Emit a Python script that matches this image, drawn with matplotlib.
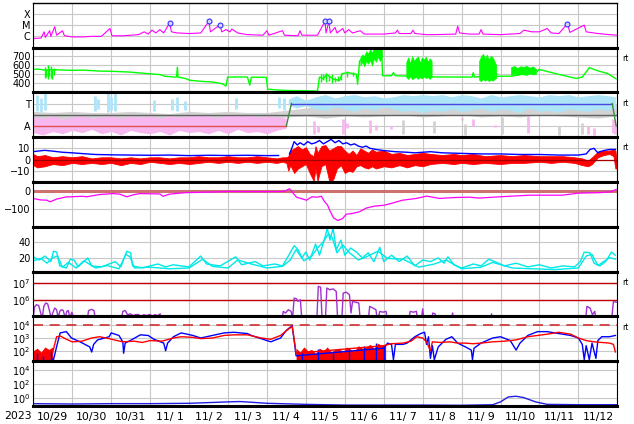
import numpy as np
import matplotlib.pyplot as plt

# time axis: days since 2023-10-29 00:00 UT
day_labels = ['10/29', '10/30', '10/31', '11/ 1', '11/ 2', '11/ 3', '11/ 4', '11/ 5',
              '11/ 6', '11/ 7', '11/ 8', '11/ 9', '11/10', '11/11', '11/12']

# --- panel 1: X-ray flux (log10 W/m2)
xray_t = [0.0, 0.2, 0.28, 0.31, 0.42, 0.45, 0.55, 0.6, 0.75, 0.8, 1.0, 1.3, 1.5, 1.75, 1.97, 2.02,
          2.3, 2.5, 2.7, 2.85, 2.95, 3.05, 3.15, 3.25, 3.35, 3.5, 3.55, 3.7, 4.0, 4.3, 4.51, 4.55,
          4.8, 4.84, 4.95, 5.05, 5.1, 5.25, 5.5, 5.9, 6.0, 6.05, 6.4, 6.45, 6.8, 6.85, 6.9, 7.3,
          7.49, 7.52, 7.59, 7.63, 7.75, 7.8, 7.95, 8.0, 8.1, 8.2, 8.4, 8.5, 9.0, 9.3, 9.35, 9.4,
          9.7, 9.75, 9.8, 10.1, 10.3, 10.85, 10.9, 10.95, 11.2, 11.45, 11.5, 11.55, 12.0, 12.5,
          12.6, 12.8, 13.0, 13.2, 13.3, 13.5, 13.72, 13.78, 14.15, 14.2, 14.5, 14.8, 15.0]
xray_log = [-6.2, -6.15, -5.6, -6.1, -5.5, -6.0, -5.15, -5.9, -5.5, -5.95, -6.05, -6.05, -6.0, -6.0,
            -5.3, -5.95, -5.95, -5.9, -5.85, -5.6, -5.8, -5.45, -5.7, -5.4, -5.7, -4.82, -5.6, -5.7,
            -5.75, -5.7, -4.66, -5.6, -4.96, -5.6, -5.4, -5.6, -5.35, -5.7, -5.85, -5.9, -5.5, -5.9,
            -5.5, -5.9, -5.95, -5.5, -5.9, -5.9, -4.66, -5.7, -4.66, -5.7, -5.2, -5.7, -5.3, -5.7,
            -5.4, -5.7, -5.5, -5.8, -5.8, -5.7, -5.45, -5.75, -5.75, -5.45, -5.75, -5.85, -5.85,
            -5.8, -5.1, -5.7, -5.8, -5.8, -5.4, -5.8, -5.85, -5.75, -5.45, -5.6, -5.6, -5.3, -5.7,
            -5.75, -4.87, -5.65, -5.0, -5.6, -5.75, -5.85, -5.9]
flare_t = [3.5, 4.51, 4.8, 7.49, 7.59, 13.72]
flare_log = [-4.82, -4.66, -4.96, -4.66, -4.66, -4.87]

# --- panel 2: solar wind speed (km/s)
speed_t = [0, 0.1, 0.3, 0.56, 0.8, 1.0, 1.3, 1.71, 2.0, 2.48, 2.99, 3.25, 3.38, 3.63, 3.68, 3.70,
           3.72, 3.9, 4.02, 4.27, 4.6, 4.86, 4.95, 4.99, 5.3, 5.5, 5.56, 5.6, 5.98, 6.02, 6.3, 6.6,
           7.0, 7.3, 7.35, 7.45, 7.53, 7.7, 7.86, 7.94, 8.1, 8.3, 8.33, 8.38, 8.5, 8.7, 8.89, 8.95,
           8.97, 9.2, 9.25, 9.3, 9.58, 10.25, 11.27, 11.3, 11.33, 11.45, 11.89, 12.27, 12.94,
           12.99, 13.5, 13.94, 14.1, 14.28, 14.5, 14.75, 14.97]
speed_v = [555, 560, 548, 552, 548, 545, 548, 537, 535, 526, 507, 498, 480, 470, 470, 580, 470,
           455, 435, 424, 415, 395, 370, 470, 472, 470, 380, 468, 468, 335, 325, 320, 318, 315,
           470, 450, 500, 450, 430, 510, 520, 500, 390, 650, 700, 740, 780, 760, 485, 485, 520,
           485, 482, 472, 470, 520, 470, 475, 480, 480, 530, 556, 500, 455, 470, 575, 540, 510, 450]
# short spiky stretches
speed_spk_t = [0.3, 0.33, 0.37, 0.41, 0.45, 0.49, 0.53, 7.38, 7.45, 7.52, 7.6, 7.67, 7.75, 7.82,
               7.9, 8.05, 8.2]
speed_spk_lo = [455, 470, 447, 480, 460, 450, 490, 420, 440, 410, 430, 400, 420, 430, 440, 470, 480]
speed_spk_hi = [580, 560, 605, 570, 590, 565, 575, 510, 500, 520, 490, 500, 470, 480, 520, 540, 530]
# dense noisy blocks (envelopes)
speed_blk_t = [[8.4, 8.45, 8.5, 8.55, 8.6, 8.65, 8.7, 8.75, 8.8, 8.85, 8.9, 8.95],
               [9.58, 9.63, 9.68, 9.73, 9.78, 9.83, 9.88, 9.93, 9.98, 10.03, 10.08, 10.13, 10.18,
                10.23],
               [11.45, 11.5, 11.55, 11.6, 11.65, 11.7, 11.75, 11.8, 11.85, 11.89],
               [12.27, 12.35, 12.43, 12.51, 12.59, 12.67, 12.75, 12.83, 12.91]]
speed_blk_lo = [[600, 640, 590, 650, 620, 660, 600, 680, 640, 700, 650, 690],
                [470, 450, 480, 447, 460, 475, 450, 470, 455, 480, 460, 470, 450, 475],
                [440, 424, 450, 430, 445, 425, 440, 430, 450, 460],
                [495, 510, 492, 505, 500, 495, 510, 500, 505]]
speed_blk_hi = [[690, 720, 700, 760, 730, 780, 740, 790, 760, 800, 770, 780],
                [640, 690, 620, 706, 650, 680, 700, 630, 690, 660, 700, 640, 680, 650],
                [650, 700, 730, 680, 720, 660, 710, 690, 640, 600],
                [580, 594, 570, 590, 585, 594, 575, 590, 560]]

# --- panel 3: IMF sector (A=1, T=3)
pink_t = [0, 0.25, 0.5, 0.75, 1.0, 1.25, 1.5, 1.75, 2.0, 2.25, 2.5, 2.75, 3.0, 3.25, 3.5, 3.75,
          4.0, 4.25, 4.5, 4.75, 5.0, 5.25, 5.5, 5.75, 6.0, 6.25, 6.5]
pink_lo = [0.4, 0.2, 0.5, 0.3, 0.6, 0.4, 0.7, 0.3, 0.5, 0.2, 0.6, 0.4, 0.3, 0.5, 0.2, 0.6, 0.4,
           0.5, 0.3, 0.6, 0.3, 0.7, 0.4, 0.5, 0.3, 0.6, 0.8]
pink_hi = [1.8, 1.7, 1.9, 1.6, 1.8, 1.9, 1.7, 1.8, 1.9, 1.7, 1.9, 1.8, 1.9, 1.7, 1.9, 1.8, 1.9,
           2.0, 1.9, 1.7, 2.1, 1.9, 2.0, 1.8, 1.9, 1.8, 1.7]
gray_t = [0, 0.5, 1, 1.5, 2, 2.5, 3, 3.5, 4, 4.5, 5, 5.5, 6, 6.5, 7, 7.5, 8, 8.5, 9, 9.5, 10,
          10.5, 11, 11.5, 12, 12.5, 13, 13.5, 14, 14.5, 15]
gray_lo = [1.6, 1.7, 1.5, 1.7, 1.6, 1.7, 1.6, 1.7, 1.6, 1.7, 1.5, 1.7, 1.6, 1.8, 1.9, 1.7, 1.9,
           1.8, 1.9, 2.0, 1.8, 1.9, 2.0, 1.8, 1.9, 1.8, 2.0, 1.9, 1.8, 1.7, 1.9]
gray_hi = [2.3, 2.2, 2.3, 2.2, 2.2, 2.3, 2.2, 2.1, 2.3, 2.2, 2.3, 2.2, 2.2, 2.4, 2.6, 2.9, 2.7,
           3.0, 2.8, 3.0, 3.1, 2.9, 3.0, 2.9, 2.8, 3.0, 2.9, 3.1, 2.9, 3.0, 2.9]
lb_t = [6.55, 6.75, 7.0, 7.25, 7.5, 7.75, 8.0, 8.25, 8.5, 8.75, 9.0, 9.25, 9.5, 9.75, 10.0, 10.25,
        10.5, 10.75, 11.0, 11.25, 11.5, 11.75, 12.0, 12.25, 12.5, 12.75, 13.0, 13.25, 13.5, 13.75,
        14.0, 14.25, 14.5, 14.75, 14.95]
lb_lo = [2.9, 2.6, 2.8, 2.5, 2.4, 2.7, 2.5, 2.3, 2.6, 2.4, 2.7, 2.5, 2.3, 2.4, 2.2, 2.4, 2.3, 2.5,
         2.3, 2.4, 2.6, 2.3, 2.5, 2.4, 2.2, 2.6, 2.3, 2.4, 2.2, 2.5, 2.4, 2.3, 2.5, 2.4, 2.6]
lb_hi = [3.4, 3.7, 3.3, 3.6, 3.8, 3.5, 3.7, 3.8, 3.6, 3.7, 3.5, 3.6, 3.8, 3.7, 3.8, 3.7, 3.8, 3.6,
         3.8, 3.7, 3.5, 3.8, 3.6, 3.7, 3.8, 3.7, 3.6, 3.8, 3.7, 3.8, 3.6, 3.7, 3.8, 3.7, 3.6]
lb_spk_t = [0.1, 0.2, 0.3, 1.58, 1.65, 1.92, 2.0, 2.1, 3.1, 3.55, 3.7, 3.9, 5.2, 6.3, 6.45]
lb_spk_lo = [2.3, 2.2, 2.4, 2.3, 2.5, 2.2, 2.4, 2.3, 2.3, 2.4, 2.3, 2.4, 2.5, 2.6, 2.4]
lb_spk_hi = [3.8, 3.5, 3.9, 3.7, 3.4, 3.9, 3.6, 3.9, 3.3, 3.4, 3.6, 3.2, 3.5, 3.6, 3.5]
pk_spk_t = [7.2, 7.3, 7.95, 8.05, 8.65, 8.8, 9.2, 11.0, 11.3, 11.85, 12.7, 14.25, 14.4, 14.88, 14.95]
pk_spk_lo = [0.3, 0.5, 0.3, 0.8, 0.4, 0.6, 0.7, 1.5, 1.0, 0.9, 0.4, 0.3, 0.2, 0.4, 0.3]
pk_spk_hi = [1.4, 1.0, 1.6, 1.3, 1.5, 1.1, 1.0, 1.7, 1.6, 1.1, 1.9, 1.0, 0.8, 1.6, 1.2]
gy_spk_t = [9.5, 10.3, 11.1, 12.05, 13.5, 14.1]
gy_spk_lo = [0.3, 0.4, 0.2, 0.3, 0.2, 0.3]
gy_spk_hi = [1.5, 1.4, 1.2, 1.8, 1.0, 1.3]
sector_t = [0, 6.5, 6.63, 14.87, 14.97]
sector_v = [1, 1, 3, 3, 1]

# --- panel 4: IMF Bt (blue) and Bz envelope (red), nT
bt_t = [0, 0.1, 0.3, 0.5, 0.75, 1.0, 1.3, 1.6, 2.0, 2.5, 3.0, 3.5, 4.0, 4.5, 5.0, 5.5, 6.0, 6.3,
        6.35, 6.55, 6.58, 6.65, 6.7, 6.78, 6.85, 6.95, 7.05, 7.15, 7.25, 7.35, 7.45, 7.55, 7.65,
        7.75, 7.85, 7.95, 8.05, 8.15, 8.25, 8.35, 8.45, 8.55, 8.65, 8.8, 9.0, 9.3, 9.6, 9.8, 10.0,
        10.2, 10.5, 11.0, 11.5, 12.0, 12.5, 13.0, 13.5, 14.0, 14.2, 14.3, 14.4, 14.5, 14.55, 14.65,
        14.8, 14.95]
bt_v = [7, 7.5, 8.2, 7.5, 6.5, 6, 5.2, 4.5, 4.2, 4.0, 3.8, 4.0, 3.5, 3.8, 3.6, 3.8, 3.5, 3.6,
        np.nan, np.nan, 5, 11, 16, 13, 15, 13, 16, 14, 15, 17, 14, 16, 18, 15, 17, 14, 15, 13, 14,
        12, 11, 12, 10, 9, 8, 7, 6.5, 6, 6.5, 7, 6, 5.5, 5, 5, 4.5, 4.5, 4, 4, 5, 9, 10, 6, 7, 8,
        9, 9]
bz_t = [0, 0.1, 0.3, 0.5, 0.75, 1.0, 1.25, 1.5, 1.75, 2.0, 2.25, 2.5, 2.75, 3.0, 3.25, 3.5, 3.75,
        4.0, 4.25, 4.5, 4.75, 5.0, 5.25, 5.5, 5.75, 6.0, 6.25, 6.4, 6.5, 6.55, 6.6, 6.7, 6.8, 6.9,
        7.0, 7.1, 7.2, 7.25, 7.3, 7.4, 7.5, 7.6, 7.7, 7.8, 7.9, 8.0, 8.1, 8.2, 8.3, 8.4, 8.5, 8.6,
        8.7, 8.8, 9.0, 9.2, 9.4, 9.6, 9.8, 10.0, 10.2, 10.5, 10.8, 11.0, 11.3, 11.6, 12.0, 12.3,
        12.6, 13.0, 13.3, 13.6, 13.9, 14.1, 14.25, 14.35, 14.5, 14.65, 14.8, 14.9, 14.95, 15.0]
bz_lo = [-5, -7, -6, -4, -5, -3, -4, -3, -4, -3, -5, -3, -4, -2, -3, -4, -3, -4, -3, -2, -3, -2,
         -3, -2, -3, -2, -3, -2, -3, -10, -5, -12, -8, -6, -4, -12, -19, -8, -19, -6, -4, -19, -18,
         -8, -5, -12, -10, -11, -6, -5, -7, -8, -6, -8, -6, -7, -5, -7, -5, -6, -4, -3, -4, -3, -4,
         -3, -4, -3, -3, -2, -3, -2, -3, -5, -6, -4, 2, 4, 5, 3, -8, -8]
bz_hi = [5, 3, 4, 2, 3, 2, 3, 1, 2, 2, 1, 2, 1, 2, 2, 1, 2, 2, 3, 2, 2, 3, 2, 2, 3, 2, 1, 2, 2,
         3, 8, 10, 12, 9, 11, 5, 3, 12, 6, 12, 13, 8, 10, 12, 12, 8, 5, 8, 4, 10, 8, 6, 9, 7, 8, 5,
         6, 4, 5, 6, 5, 4, 5, 4, 5, 3, 4, 3, 4, 3, 3, 3, 2, 1, -1, 2, 7, 8, 8, 9, 8, -5]

# --- panel 5: Dst (nT)
dst_t = [0, 0.17, 0.35, 0.43, 0.61, 0.86, 0.94, 1.27, 1.37, 1.71, 2.05, 2.22, 2.4, 2.56, 2.74,
         3.25, 3.33, 3.5, 3.89, 4.27, 5.04, 5.81, 6.45, 6.58, 6.76, 7.02, 7.15, 7.3, 7.4, 7.48,
         7.56, 7.61, 7.71, 7.82, 7.94, 8.04, 8.19, 8.37, 8.55, 8.76, 9.01, 9.19, 9.48, 9.84, 10.1,
         10.43, 10.82, 11.2, 11.45, 11.97, 12.74, 13.58, 14.02, 14.53, 14.84, 14.97]
dst_v = [-42, -50, -52, -61, -45, -33, -33, -30, -33, -20, -15, -18, -33, -22, -15, -17, -30, -18,
         -10, -8, -3, -4, -3, 12, -35, -52, -33, -35, -30, -60, -80, -107, -150, -165, -155, -130,
         -126, -117, -96, -85, -80, -70, -52, -42, -29, -42, -37, -35, -40, -33, -24, -24, -12,
         -10, -5, 8]

# --- panel 6: two cyan series
cy1_t = [0, 0.15, 0.3, 0.45, 0.52, 0.6, 0.68, 0.85, 0.95, 1.05, 1.15, 1.4, 1.5, 1.75, 1.95, 2.1,
         2.25, 2.4, 2.5, 2.55, 2.8, 3.0, 3.2, 3.4, 3.6, 3.8, 4.0, 4.3, 4.45, 4.8, 5.2, 5.35, 5.7,
         5.9, 6.2, 6.4, 6.55, 6.7, 6.8, 6.9, 7.0, 7.1, 7.25, 7.35, 7.5, 7.55, 7.62, 7.7, 7.78, 7.9,
         8.0, 8.15, 8.3, 8.45, 8.6, 8.75, 8.9, 9.0, 9.2, 9.4, 9.6, 9.8, 10.0, 10.2, 10.4, 10.55,
         10.65, 10.8, 11.0, 11.3, 11.5, 11.7, 11.85, 12.1, 12.4, 12.7, 13.0, 13.3, 13.6, 13.9,
         14.05, 14.15, 14.3, 14.4, 14.55, 14.7, 14.85, 14.95]
cy1_v = [21, 17, 22, 15, 28, 27, 9.6, 7, 18, 17, 8.4, 19.6, 9.6, 8.4, 12, 15, 8.4, 28, 26, 9.6,
         7, 9.6, 12, 8.4, 11, 9.6, 8.4, 22, 12, 9.6, 21, 11, 15, 9.6, 12, 9.6, 22, 35, 30, 19.6,
         27, 17, 37, 23, 47, 57, 42, 57, 30, 42, 23, 32, 27, 19.6, 26, 15, 33, 15, 23, 15, 22, 9.6,
         17, 15, 19.6, 13, 21, 11, 7, 12, 9.6, 18, 15, 9.6, 13, 8.4, 11, 7, 9.6, 8.4, 15, 27, 26,
         13, 9.6, 15, 27, 23]
cy2_t = [0, 0.2, 0.35, 0.5, 0.62, 0.75, 0.9, 1.1, 1.3, 1.6, 1.9, 2.2, 2.38, 2.48, 2.6, 3.0, 3.5,
         4.0, 4.35, 4.6, 5.0, 5.25, 5.6, 6.0, 6.4, 6.6, 6.75, 6.95, 7.15, 7.3, 7.45, 7.58, 7.68,
         7.8, 7.95, 8.1, 8.35, 8.55, 8.85, 9.1, 9.5, 9.9, 10.3, 10.6, 11.0, 11.5, 11.8, 12.3,
         12.8, 13.4, 14.0, 14.2, 14.35, 14.5, 14.8, 14.95]
cy2_v = [16, 19, 13, 20, 22, 8, 14, 7, 16, 7, 10, 6, 24, 21, 7, 8, 6, 7, 18, 9, 7, 17, 12, 7, 9,
         17, 30, 16, 22, 32, 40, 50, 45, 26, 36, 27, 17, 21, 28, 19, 18, 8, 12, 17, 6, 8, 14, 7, 6,
         5, 7, 22, 24, 10, 20, 18]

# --- panel 7: purple series (log10); 4.7 = below the panel floor
pur_t = [0.0, 0.03, 0.08, 0.14, 0.19, 0.23, 0.27, 0.32, 0.37, 0.42, 0.46, 0.5, 0.55, 0.6, 0.64,
         0.68, 0.72, 0.77, 0.82, 0.86, 0.9, 0.94, 0.99, 1.04, 1.38, 1.42, 1.5, 1.56, 1.6, 2.25,
         2.3, 2.36, 2.42, 2.5, 2.56, 2.62, 2.7, 2.76, 2.84, 2.9, 3.0, 3.06, 3.12, 3.2, 3.26, 3.3,
         6.38, 6.42, 6.48, 6.55, 6.62, 6.66, 6.7, 6.76, 6.8, 6.86, 6.9, 7.28, 7.32, 7.38, 7.42,
         7.5, 7.54, 7.62, 7.7, 7.78, 7.82, 7.92, 7.96, 8.04, 8.12, 8.16, 8.2, 8.28, 8.36, 8.4,
         8.6, 8.64, 8.72, 8.8, 8.84, 8.9, 8.98, 9.06, 9.1, 9.64, 9.68, 9.76, 9.84, 9.88, 9.96,
         10.0, 10.04, 10.22, 10.26, 10.32, 10.36, 10.74, 10.77, 10.8, 11.74, 11.77, 11.8, 14.18,
         14.22, 14.3, 14.36, 14.42, 14.46, 14.85, 14.9, 14.97]
pur_log = [4.9, 5.55, 5.7, 5.65, 5.2, 4.9, 5.6, 5.8, 5.75, 5.3, 4.9, 5.2, 5.5, 5.4, 4.9, 5.3, 5.4,
           5.35, 4.9, 5.3, 5.35, 4.9, 5.25, 4.9, 4.7, 5.35, 5.42, 5.35, 4.7, 4.7, 5.3, 5.35, 5.1,
           5.15, 5.05, 5.1, 5.12, 5.0, 5.1, 5.05, 5.12, 5.0, 5.1, 5.05, 5.15, 4.7, 4.7, 5.3, 5.2,
           5.4, 5.3, 4.9, 6.1, 6.05, 5.9, 6.0, 4.7, 4.7, 6.8, 6.75, 4.7, 4.7, 6.7, 6.6, 6.65, 6.5,
           4.7, 4.7, 6.4, 6.45, 6.3, 5.2, 5.9, 5.85, 5.8, 4.7, 4.7, 5.6, 5.5, 5.4, 4.7, 5.3, 5.25,
           5.3, 4.7, 4.7, 5.3, 5.25, 5.3, 4.7, 4.7, 5.45, 4.7, 4.7, 5.2, 5.15, 4.7, 4.7, 5.2, 4.7,
           4.7, 5.15, 4.7, 4.7, 5.6, 5.5, 5.1, 5.3, 4.7, 4.7, 5.9, 5.85]

# --- panel 8: particle flux (log10), blue and red
eb_t = [0.5, 0.52, 0.61, 0.69, 0.85, 0.98, 1.2, 1.45, 1.5, 1.55, 1.65, 1.95, 2.0, 2.2, 2.3, 2.32,
        2.36, 2.55, 2.75, 2.95, 3.1, 3.35, 3.4, 3.45, 3.6, 3.8, 4.1, 4.3, 4.6, 4.9, 5.15, 5.5,
        5.6, 5.85, 6.1, 6.35, 6.5, 6.6, 6.65, 6.7, 6.75, 9.0, 9.1, 9.2, 9.25, 9.3, 9.5, 9.6,
        9.8, 9.95, 10.05, 10.1, 10.15, 10.2, 10.25, 10.3, 10.4, 10.6, 10.75, 10.9, 11.1, 11.25,
        11.28, 11.32, 11.5, 11.8, 12.0, 12.25, 12.4, 12.5, 12.7, 12.95, 13.2, 13.5, 13.8, 14.0,
        14.1, 14.15, 14.2, 14.28, 14.35, 14.45, 14.5, 14.6, 14.8, 14.95]
eb_log = [1.3, 1.3, 2.45, 3.4, 3.5, 3.0, 2.7, 2.3, 1.9, 2.5, 2.85, 3.1, 3.4, 3.2, 2.7, 1.8, 2.6,
          2.9, 3.25, 3.2, 2.9, 2.6, 2.0, 2.6, 3.1, 3.4, 3.2, 3.0, 3.2, 3.4, 3.45, 3.35, 3.2, 2.95,
          2.7, 3.0, 3.6, 3.85, 3.95, 2.8, 1.6, 2.2, 2.6, 2.5, 1.3, 2.5, 2.5, 2.6, 3.1, 3.35, 3.45,
          2.5, 3.1, 1.4, 2.4, 1.3, 2.3, 2.9, 3.1, 2.6, 2.3, 2.05, 1.3, 2.2, 2.6, 3.0, 3.1, 2.8,
          2.05, 2.6, 3.2, 3.5, 3.5, 3.35, 3.2, 3.0, 2.5, 1.3, 2.4, 1.3, 2.6, 1.4, 2.8, 3.1, 3.1, 3.2]
er_t = [0.5, 0.6, 0.7, 0.85, 1.0, 1.25, 1.5, 1.7, 1.95, 2.15, 2.3, 2.6, 2.8, 3.0, 3.3, 3.6, 3.8,
        4.1, 4.3, 4.6, 4.9, 5.15, 5.5, 5.85, 6.1, 6.35, 6.55, 6.65, 6.72, 6.75, 9.0, 9.2, 9.5,
        9.7, 9.85, 10.0, 10.1, 10.2, 10.25, 10.45, 10.7, 10.9, 11.1, 11.3, 11.5, 11.8, 12.1, 12.4,
        12.7, 12.95, 13.2, 13.5, 13.8, 14.0, 14.2, 14.4, 14.6, 14.8, 14.9, 14.95]
er_log = [1.9, 3.1, 3.15, 2.9, 2.7, 2.75, 3.0, 3.1, 2.95, 2.8, 2.7, 2.75, 2.65, 2.8, 2.75, 3.0,
          3.1, 3.05, 2.95, 3.0, 3.2, 3.25, 3.25, 3.0, 2.9, 3.2, 3.7, 3.9, 2.5, 1.8, 2.4, 2.55, 2.6,
          2.75, 3.1, 3.0, 2.7, 2.0, 2.7, 2.65, 2.7, 2.6, 2.6, 2.55, 2.6, 2.7, 2.75, 2.85, 3.1, 3.2,
          3.3, 3.45, 3.3, 3.0, 2.8, 2.7, 2.65, 2.6, 2.5, 1.9]
ern_t = [0, 0.1, 0.2, 0.3, 0.4, 0.5, 6.75, 6.85, 6.95, 7.05, 7.15, 7.25, 7.35, 7.45, 7.55, 7.65,
         7.75, 7.85, 7.95, 8.05, 8.15, 8.25, 8.35, 8.45, 8.55, 8.65, 8.75, 8.85, 8.95, 9.05]
ern_hi = [2.0, 2.2, 1.9, 2.3, 2.1, 2.3, 2.2, 1.9, 2.3, 2.0, 2.1, 1.8, 2.2, 2.0, 2.3, 1.9, 2.1,
          2.2, 1.9, 2.3, 2.1, 2.0, 2.4, 2.2, 2.3, 2.5, 2.2, 2.6, 2.4, 2.5]
ebn_t = [0.1, 0.25, 0.45, 6.9, 7.3, 7.7, 8.1, 8.5, 8.8, 9.0]
ebn_hi = [1.8, 1.6, 2.0, 1.9, 2.1, 1.8, 2.2, 2.4, 2.6, 2.3]

# --- panel 9: blue series (log10)
p9_t = [0, 1, 2, 3, 4, 5, 5.3, 5.6, 6, 7, 8, 9, 10, 11, 11.8, 12.0, 12.2, 12.4, 12.6, 12.9, 13.2,
        14, 15]
p9_log = [-0.75, -0.8, -0.75, -0.75, -0.7, -0.5, -0.45, -0.55, -0.7, -0.85, -0.95, -0.95, -0.95,
          -0.98, -0.9, -0.5, 0.2, 0.3, 0.1, -0.5, -0.85, -0.9, -0.9]

fig, axs = plt.subplots(9, 1, figsize=(6.34, 4.24), dpi=100, sharex=True)
fig.subplots_adjust(left=0.0525, right=0.9737, top=0.9936, bottom=0.0425, hspace=0)

gridc = '#c8c8c8'
for i, ax in enumerate(axs):
    ax.set_xlim(0, 15)
    ax.set_xticks(range(16))
    ax.set_xticks(np.arange(15) + 0.5, minor=True)
    ax.tick_params(which='both', length=0, labelsize=7, pad=2)
    ax.tick_params(axis='x', which='major', labelbottom=False)
    ax.tick_params(axis='x', which='minor', labelbottom=(i == 8), labelsize=7.8, pad=4)
    ax.grid(True, which='major', color=gridc, lw=0.8)
    ax.set_axisbelow(True)
    for s in ['left', 'right']:
        ax.spines[s].set_linewidth(0.8)
    ax.spines['top'].set_linewidth(1.0 if i == 0 else 2.2)
    ax.spines['bottom'].set_linewidth(2.2)
axs[8].set_xticklabels(day_labels, minor=True)
fig.text(18 / 634, 1 - 416 / 424, '2023', fontsize=7.8, ha='center', va='center')

# panel 1
ax = axs[0]
ax.set_yscale('log')
ax.set_ylim(1e-7, 1e-3)
ax.plot(xray_t, [10 ** v for v in xray_log], color='#ff00ff', lw=0.8)
ax.plot(flare_t, [10 ** v for v in flare_log], 'o', ms=3.5, mfc='#d8d8ff', mec='#3030ff', mew=0.8)
ax.set_yticks([1e-6, 1e-5, 1e-4])
ax.set_yticklabels(['C', 'M', 'X'])
ax.yaxis.set_minor_locator(plt.NullLocator())

# panel 2
ax = axs[1]
ax.set_ylim(300, 800)
ax.set_yticks([400, 500, 600, 700])
for bt, bl, bh in zip(speed_blk_t, speed_blk_lo, speed_blk_hi):
    ax.fill_between(bt, bl, bh, color='#00ff00', lw=0.5)
ax.vlines(speed_spk_t, speed_spk_lo, speed_spk_hi, color='#00ff00', lw=1)
ax.plot(speed_t, speed_v, color='#00ff00', lw=1.0)

# panel 3
ax = axs[2]
ax.set_ylim(0, 4)
ax.set_yticks([1, 3])
ax.set_yticklabels(['A', 'T'])
ax.fill_between(gray_t, gray_lo, gray_hi, color='#d2d2d2', lw=0)
ax.fill_between(pink_t, pink_lo, pink_hi, color='#f7b8f0', lw=0)
ax.fill_between(lb_t, lb_lo, lb_hi, color='#aee4f8', lw=0)
ax.vlines(lb_spk_t, lb_spk_lo, lb_spk_hi, color='#aee4f8', lw=2)
ax.vlines(pk_spk_t, pk_spk_lo, pk_spk_hi, color='#f7b8f0', lw=2)
ax.vlines(gy_spk_t, gy_spk_lo, gy_spk_hi, color='#d2d2d2', lw=2)
ax.axhline(2, color='#606060', lw=1)
seg_cols = ['#e05050', '#3c8c3c', '#4848e0', '#3c8c3c']
for k in range(4):
    ax.plot(sector_t[k:k + 2], sector_v[k:k + 2], color=seg_cols[k], lw=1)

# panel 4
ax = axs[3]
ax.set_ylim(-20, 20)
ax.set_yticks([-10, 0, 10])
ax.fill_between(bz_t, bz_lo, bz_hi, color='#ff0000', lw=0.6)
ax.plot(bt_t, bt_v, color='#0000ff', lw=1.0)
ax.axhline(0, color='#a00000', lw=0.9)

# panel 5
ax = axs[4]
ax.set_ylim(-200, 50)
ax.set_yticks([-100, 0])
ax.axhline(0, color='#cc7070', lw=2.2)
ax.plot(dst_t, dst_v, color='#ff00ff', lw=0.9)

# panel 6
ax = axs[5]
ax.set_ylim(2.5, 58.75)
ax.set_yticks([20, 40])
ax.plot(cy2_t, cy2_v, color='#00e8e8', lw=1.0)
ax.plot(cy1_t, cy1_v, color='#00e8e8', lw=1.0)

# panel 7
ax = axs[6]
ax.set_yscale('log')
ax.set_ylim(1e5, 10 ** 7.69)
ax.set_yticks([1e6, 1e7])
ax.yaxis.set_minor_locator(plt.NullLocator())
ax.axhline(1e6, color='#c00000', lw=1)
ax.axhline(1e7, color='#c00000', lw=1)
ax.plot(pur_t, [10 ** v for v in pur_log], color='#a030d0', lw=1.0)

# panel 8
ax = axs[7]
ax.set_yscale('log')
ax.set_ylim(10 ** 1.18, 10 ** 4.7)
ax.set_yticks([1e2, 1e3, 1e4])
ax.yaxis.set_minor_locator(plt.NullLocator())
ax.axhline(1e4, color='#d03030', lw=1.2, ls=(0, (6, 4)))
ax.fill_between(ern_t[:6], 10 ** 1.18, [10 ** v for v in ern_hi[:6]], color='#ff0000', lw=0)
ax.fill_between(ern_t[6:], 10 ** 1.18, [10 ** v for v in ern_hi[6:]], color='#ff0000', lw=0)
ax.vlines(ebn_t, 10 ** 1.18, [10 ** v for v in ebn_hi], color='#0000ff', lw=1)
ax.plot(eb_t, [10 ** v for v in eb_log], color='#0000ff', lw=1.0)
ax.plot(er_t, [10 ** v for v in er_log], color='#ff0000', lw=1.0)

# panel 9
ax = axs[8]
ax.set_yscale('log')
ax.set_ylim(10 ** -1.08, 10 ** 5.27)
ax.set_yticks([1e0, 1e2, 1e4])
ax.yaxis.set_minor_locator(plt.NullLocator())
ax.plot(p9_t, [10 ** v for v in p9_log], color='#2020e0', lw=1.0)

for k in [1, 2, 3, 6, 7]:
    axs[k].text(1.008, 0.76, 'rt', transform=axs[k].transAxes, fontsize=5.5, va='center')

fig.savefig('out.png', dpi=100)
